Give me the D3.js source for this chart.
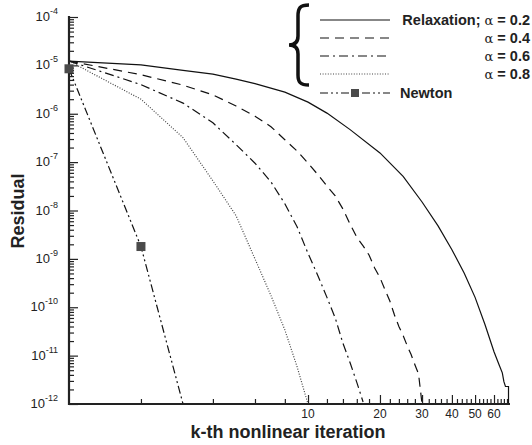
<!DOCTYPE html>
<html>
<head>
<meta charset="utf-8">
<script src="https://cdn.jsdelivr.net/npm/d3@7"></script>
<style>
  body { margin: 0; background: #fff; }
  svg { font-family: "Liberation Sans", Arial, Helvetica, sans-serif; }
</style>
</head>
<body>
<script>
//iteration numbers and residuals
var iterA02 = [1, 2, 3, 4, 5, 6, 8, 10, 12, 15, 20, 25, 30, 35, 40, 45, 50, 55, 60, 63, 65, 66, 67, 69, 69];
var resA02 = [1.23e-5, 1.02e-5, 7.9e-6, 6.6e-6, 5.2e-6, 4.2e-6, 2.8e-6, 1.74e-6, 1.03e-6, 4.7e-7, 1.55e-7, 5.1e-8, 1.5e-8, 4.8e-9, 1.55e-9, 5.1e-10, 1.6e-10, 4.4e-11, 1.2e-11, 6.5e-12, 4.4e-12, 2.9e-12, 2.3e-12, 2.3e-12, 3e-13];

var iterA04 = d3.range(1, 31);
var resA04 = [1.23e-5, 6.4e-6, 3.9e-6, 2.45e-6, 1.45e-6, 8.9e-7, 5.4e-7, 2.9e-7, 1.7e-7, 9.5e-8, 5.5e-8, 3.2e-8, 2.0e-8, 1.07e-8, 5.2e-9, 2.8e-9, 1.86e-9, 1.2e-9, 6.5e-10, 4.1e-10, 2.3e-10, 1.35e-10, 6.9e-11, 4.0e-11, 2.6e-11, 1.6e-11, 1.05e-11, 6.5e-12, 4.2e-12, 1.0e-12];

var iterA06 = d3.range(1, 18);
var resA06 = [1.23e-5, 4.0e-6, 1.66e-6, 6.5e-7, 2.3e-7, 9.5e-8, 3.9e-8, 1.38e-8, 4.6e-9, 1.3e-9, 4.5e-10, 1.6e-10, 6.0e-11, 1.8e-11, 7.1e-12, 2.8e-12, 1.1e-12];

var iterA08 = d3.range(1, 11);
var resA08 = [1.23e-5, 2.0e-6, 3.2e-7, 4.1e-8, 7.8e-9, 1.0e-9, 1.74e-10, 3.4e-11, 5.9e-12, 1.0e-12];

var iterNewton = [1, 2, 3];
var resNewton = [8.5e-6, 1.8e-9, 1.0e-12];

var yDecades = [-12, -11, -10, -9, -8, -7, -6, -5, -4];
var xLabelTicks = [10, 20, 30, 40, 50, 60];
var legendAlphas = ["0.2", "0.4", "0.6", "0.8"];

//frame
var width = 532,
    height = 445;

var svg = d3.select("body")
    .append("svg")
    .attr("width", width)
    .attr("height", height);

var x = d3.scaleLog().domain([1, 70]).range([69, 510]);
var y = d3.scaleLog().domain([1e-12, 1e-4]).range([404, 17]);

svg.append("clipPath")
    .attr("id", "plotclip")
    .append("rect")
    .attr("x", 69).attr("y", 17)
    .attr("width", 441).attr("height", 387);

//series
var series = [
    {it: iterA02, res: resA02, dash: null, color: "#111"},
    {it: iterA04, res: resA04, dash: "9,6", color: "#111"},
    {it: iterA06, res: resA06, dash: "9,4,2,4", color: "#111"},
    {it: iterA08, res: resA08, dash: "1,1.6", color: "#444"},
    {it: iterNewton, res: resNewton, dash: "8,3,2,3,2,3", color: "#111"}
];

var line = d3.line()
    .x(function(d){ return x(d[0]); })
    .y(function(d){ return y(d[1]); });

var plot = svg.append("g").attr("clip-path", "url(#plotclip)");

series.forEach(function(s){
    plot.append("path")
        .datum(d3.zip(s.it, s.res))
        .attr("fill", "none")
        .attr("stroke", s.color)
        .attr("stroke-width", 1.2)
        .attr("stroke-dasharray", s.dash)
        .attr("d", line);
});

//axes: ticks point inward
var minorY = [];
yDecades.slice(0, -1).forEach(function(e){
    for (var m = 2; m <= 9; m++) minorY.push(m * Math.pow(10, e));
});

var axisY = svg.append("g").attr("transform", "translate(69,0)");
axisY.call(d3.axisRight(y).tickValues(minorY).tickSize(5).tickFormat(""));
axisY.append("g").call(d3.axisRight(y)
    .tickValues(yDecades.map(function(e){ return Math.pow(10, e); }))
    .tickSize(9).tickFormat(""));

var minorX = [];
for (var k = 2; k < 70; k += 2) {
    if (k % 10 !== 0) minorX.push(k);
}

var axisX = svg.append("g").attr("transform", "translate(0,404)");
axisX.call(d3.axisTop(x).tickValues(minorX).tickSize(5).tickFormat(""));
axisX.append("g").call(d3.axisTop(x).tickValues(xLabelTicks).tickSize(9).tickFormat(""));

svg.selectAll(".domain").remove();
svg.selectAll(".tick line").attr("stroke", "#222").attr("stroke-width", 1.2);

svg.append("line")
    .attr("x1", 69).attr("x2", 69).attr("y1", 16).attr("y2", 405)
    .attr("stroke", "#222").attr("stroke-width", 2.2);
svg.append("line")
    .attr("x1", 68).attr("x2", 510).attr("y1", 404).attr("y2", 404)
    .attr("stroke", "#222").attr("stroke-width", 2.2);

//tick labels
svg.selectAll(".xlab")
    .data(xLabelTicks)
    .enter()
    .append("text")
    .attr("class", "xlab")
    .attr("x", function(d){ return x(d); })
    .attr("y", 418)
    .attr("text-anchor", "middle")
    .attr("font-size", 12)
    .attr("fill", "#222")
    .text(function(d){ return d; });

var ylab = svg.selectAll(".ylab")
    .data(yDecades)
    .enter()
    .append("text")
    .attr("class", "ylab")
    .attr("x", 58)
    .attr("y", function(d){ return y(Math.pow(10, d)) + 4; })
    .attr("text-anchor", "end")
    .attr("fill", "#222")
    .attr("font-size", 13);
ylab.append("tspan").text("10");
ylab.append("tspan")
    .attr("font-size", 9)
    .attr("dy", -7)
    .text(function(d){ return "-" + Math.abs(d); });

//axis titles
svg.append("text")
    .attr("x", 288).attr("y", 438)
    .attr("text-anchor", "middle")
    .attr("font-size", 18).attr("font-weight", "bold")
    .attr("fill", "#222")
    .text("k-th nonlinear iteration");

svg.append("text")
    .attr("transform", "translate(24,211) rotate(-90)")
    .attr("text-anchor", "middle")
    .attr("font-size", 18).attr("font-weight", "bold")
    .attr("fill", "#222")
    .text("Residual");

//Newton markers
svg.selectAll(".mark")
    .data(d3.zip(iterNewton, resNewton))
    .enter()
    .append("rect")
    .attr("class", "mark")
    .attr("x", function(d){ return x(d[0]) - 4.5; })
    .attr("y", function(d){ return y(d[1]) - 4.5; })
    .attr("width", 9).attr("height", 9)
    .attr("fill", function(d){ return y(d[1]) < 400 ? "#4a4a4a" : "none"; });

//legend
var rowY = [20, 38, 56, 74, 93];
var legend = svg.append("g");

series.forEach(function(s, i){
    legend.append("line")
        .attr("x1", 320).attr("x2", 390)
        .attr("y1", rowY[i]).attr("y2", rowY[i])
        .attr("stroke", s.color)
        .attr("stroke-width", 1.2)
        .attr("stroke-dasharray", s.dash);
});

legend.append("rect")
    .attr("x", 351).attr("y", rowY[4] - 4)
    .attr("width", 8).attr("height", 8)
    .attr("fill", "#4a4a4a");

legendAlphas.forEach(function(a, i){
    var t = legend.append("text")
        .attr("x", 530).attr("y", rowY[i] + 5)
        .attr("text-anchor", "end")
        .attr("font-size", 14.5)
        .attr("fill", "#222");
    if (i === 0) t.append("tspan").attr("font-weight", "bold").text("Relaxation; ");
    t.append("tspan").attr("font-family", "DejaVu Serif").attr("font-size", 13).text("\u03b1");
    t.append("tspan").attr("font-weight", "bold").text(" = " + a);
});

legend.append("text")
    .attr("x", 400).attr("y", rowY[4] + 5)
    .attr("font-size", 14.5).attr("font-weight", "bold")
    .attr("fill", "#222")
    .text("Newton");

//brace grouping the relaxation entries
legend.append("path")
    .attr("d", "M309,5 C300,5 298,8 298,16 L298,36 C298,42 295,45 289,45 C295,45 298,48 298,54 L298,75 C298,82 300,85 309,85")
    .attr("fill", "none")
    .attr("stroke", "#111")
    .attr("stroke-width", 3.5);
</script>
</body>
</html>
